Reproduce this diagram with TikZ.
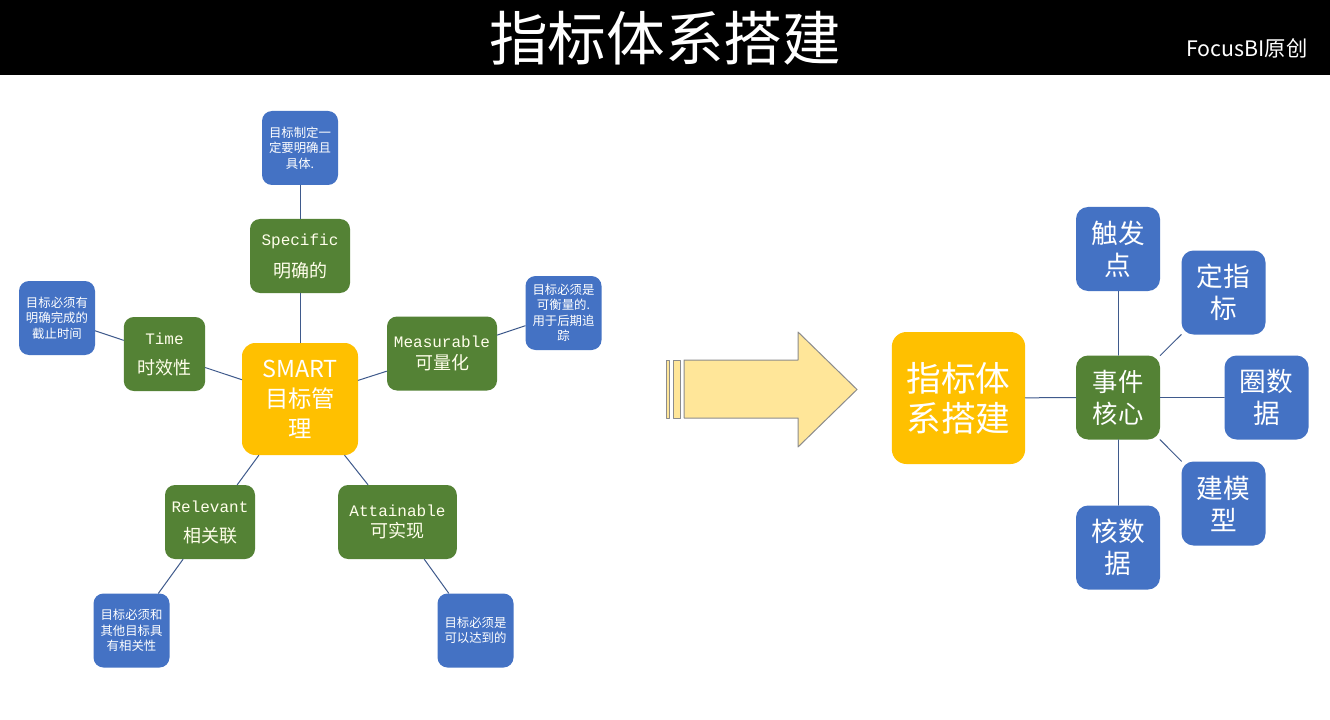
\documentclass[tikz,border=0pt]{standalone}
\usepackage{fontspec}
\setmainfont{Noto Sans CJK SC}
\newfontfamily\latmono{Liberation Mono}
\definecolor{noteblue}{HTML}{4472C4}
\definecolor{goalgreen}{HTML}{548235}
\definecolor{coreyellow}{HTML}{FFC000}
\definecolor{arrowfill}{HTML}{FFE699}
\definecolor{linkblue}{HTML}{3F5A8C}
\newcommand{\goaltext}[3]{{\latmono\fontsize{12}{16}\selectfont #1}\\[#3]#2}
\begin{document}
\begin{tikzpicture}[
  x=0.75pt, y=-0.75pt,
  line cap=round,
  line join=round,
  box/.style={rounded corners=7.5pt, inner sep=0pt, align=center, text=white},
  note/.style={box, fill=noteblue, minimum width=57pt, minimum height=55.5pt,
    font=\fontsize{9.3}{11.6}\selectfont},
  goal/.style={box, fill=goalgreen, minimum height=55.5pt, text=white!92!yellow,
    font=\fontsize{13.5}{16}\selectfont},
  leaf/.style={box, fill=noteblue, rounded corners=9pt, minimum width=63pt,
    minimum height=63pt, font=\fontsize{20}{24}\selectfont},
  link/.style={draw=linkblue, line width=0.75pt},
  arrowpart/.style={draw=black!45, fill=arrowfill, line width=0.75pt}
]
  \useasboundingbox (0,0) rectangle (1330,720);
  \fill[white] (0,0) rectangle (1330,720);

  % Kopfleiste
  \fill[black] (0,0) rectangle (1330,75);
  \node[text=white, font=\fontsize{44}{50}\selectfont] (title) at (665,38) {指标体系搭建};
  \node[text=white, font=\fontsize{16}{18}\selectfont] (brand) at (1247,48) {FocusBI原创};

  % SMART
  \node[box, fill=coreyellow, minimum width=87pt, minimum height=84pt,
    rounded corners=10pt, font=\fontsize{17.5}{22.5}\selectfont]
    (smart) at (300,399) {SMART\\目标管\\理};

  \node[goal, minimum width=75pt] (spec) at (300,256) {\goaltext{Specific}{明确的}{8pt}};
  \node[note] (specn) at (300,148) {目标制定一\\定要明确且\\具体.};

  \node[goal, minimum width=61pt] (time) at (164.5,354) {\goaltext{Time}{时效性}{6.5pt}};
  \node[note] (timen) at (57,318) {目标必须有\\明确完成的\\截止时间};

  \node[goal, minimum width=82.5pt] (meas) at (442,353.5) {\goaltext{Measurable}{可量化}{0pt}};
  \node[note] (measn) at (563.5,313) {目标必须是\\可衡量的.\\用于后期追\\踪};

  \node[goal, minimum width=67.5pt] (rel) at (210,522) {\goaltext{Relevant}{相关联}{6.5pt}};
  \node[note] (reln) at (131.5,630.5) {目标必须和\\其他目标具\\有相关性};

  \node[goal, minimum width=89pt] (att) at (397.5,522) {\goaltext{Attainable}{可实现}{0pt}};
  \node[note] (attn) at (475.5,630.5) {目标必须是\\可以达到的};

  \draw[link] (specn) -- (spec);
  \draw[link] (spec) -- (smart);
  \draw[link] (timen) -- (time);
  \draw[link] (time) -- (smart);
  \draw[link] (smart) -- (meas);
  \draw[link] (meas) -- (measn);
  \draw[link] (smart) -- (rel);
  \draw[link] (rel) -- (reln);
  \draw[link] (smart) -- (att);
  \draw[link] (att) -- (attn);

  % Pfeil
  \draw[arrowpart] (666,360) rectangle (669,418);
  \draw[arrowpart] (673,360) rectangle (680,418);
  \draw[arrowpart] (684,360) -- (798,360) -- (798,332) -- (857,389.5)
    -- (798,447) -- (798,418) -- (684,418) -- cycle;

  % Ereignis-Kern
  \node[box, fill=coreyellow, minimum width=100pt, minimum height=99pt,
    rounded corners=11pt, font=\fontsize{26}{30}\selectfont]
    (sys) at (958.5,398) {指标体\\系搭建};
  \node[leaf, fill=goalgreen, font=\fontsize{19}{24}\selectfont]
    (core) at (1118,397.5) {事件\\核心};
  \node[leaf] (trig)   at (1118,249)     {触发\\点};
  \node[leaf] (kpi)    at (1223.5,292.5) {定指\\标};
  \node[leaf] (circ)   at (1266.5,397.5) {圈数\\据};
  \node[leaf] (model)  at (1223.5,503.5) {建模\\型};
  \node[leaf] (verify) at (1118,547.5)   {核数\\据};

  \draw[link] (sys) -- (core);
  \foreach \n in {trig,kpi,circ,model,verify}
    \draw[link] (core) -- (\n);
\end{tikzpicture}
\end{document}
